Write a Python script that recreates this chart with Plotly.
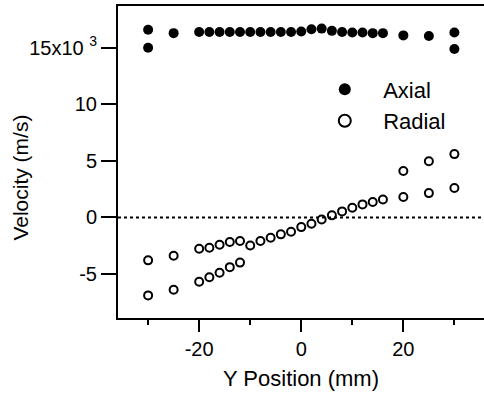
import plotly.graph_objects as go

# Axial velocity (x10^3 m/s)
axial_x = [-30, -30, -25, -20, -18, -16, -14, -12, -10, -8, -6, -4, -2, 0, 2, 4, 6, 8, 10, 12, 14, 16, 20, 25, 30, 30]
axial_v = [16.6, 15.0, 16.3, 16.4, 16.4, 16.4, 16.4, 16.4, 16.4, 16.4, 16.4, 16.4, 16.4, 16.45, 16.65, 16.7, 16.5,
           16.4, 16.35, 16.35, 16.3, 16.3, 16.1, 16.05, 16.35, 14.9]

# Radial velocity (x10^3 m/s)
radial_x = [-30, -30, -25, -25,
            -20, -18, -16, -14, -12,
            -20, -18, -16, -14, -12, -10, -8, -6, -4, -2, 0, 2, 4, 6, 8, 10, 12, 14, 16,
            20, 20, 25, 25, 30, 30]
radial_v = [-3.8, -6.9, -3.4, -6.4,
            -5.7, -5.3, -4.9, -4.4, -4.0,
            -2.77, -2.68, -2.42, -2.18, -2.09, -2.48, -2.09, -1.80, -1.50, -1.27, -0.86, -0.56, -0.18,
            0.18, 0.53, 0.86, 1.15, 1.36, 1.59,
            4.1, 1.8, 4.96, 2.15, 5.6, 2.6]

ytick_vals = [-5, 0, 5, 10, 15]
ytick_text = ["-5", "0", "5", "10", "15x10 <sup>3</sup>"]
xtick_vals = [-20, 0, 20]
xtick_text = ["-20", "0", "20"]
series_names = ["Axial", "Radial"]

FONT = "Liberation Sans, Arial, sans-serif"
PAD = "\u00a0\u00a0\u00a0"

fig = go.Figure()
fig.add_trace(go.Scatter(x=axial_x, y=axial_v, mode="markers", name=PAD + series_names[0],
                         marker=dict(symbol="circle", size=10, color="black")))
fig.add_trace(go.Scatter(x=radial_x, y=radial_v, mode="markers", name=PAD + series_names[1],
                         marker=dict(symbol="circle-open", size=8, color="black", line=dict(width=2))))

fig.add_shape(type="line", xref="paper", yref="y", x0=0, x1=1, y0=0, y1=0,
              line=dict(color="black", width=2, dash="dot"), layer="below")

fig.update_layout(
    width=484, height=402,
    margin=dict(l=118, r=0, t=6, b=84),
    paper_bgcolor="white", plot_bgcolor="white",
    font=dict(family=FONT, size=20, color="black"),
    showlegend=True,
    legend=dict(x=0.565, y=0.80, xanchor="left", yanchor="top",
                bgcolor="rgba(0,0,0,0)", font=dict(size=22), itemsizing="constant",
                tracegroupgap=0),
    xaxis=dict(range=[-35.9, 35.8], showgrid=False, zeroline=False,
               showline=True, linecolor="black", linewidth=2, mirror=True,
               tickmode="array", tickvals=xtick_vals, ticktext=xtick_text,
               ticks="outside", ticklen=12, tickwidth=2, tickcolor="black",
               minor=dict(tickvals=[-30, -10, 10, 30], ticks="outside", ticklen=5, tickwidth=2, tickcolor="black"),
               title=dict(text="Y Position (mm)", font=dict(size=22), standoff=12)),
    yaxis=dict(range=[-8.9, 18.7], showgrid=False, zeroline=False,
               showline=True, linecolor="black", linewidth=2, mirror=False,
               tickmode="array", tickvals=ytick_vals, ticktext=ytick_text,
               ticks="outside", ticklen=15, tickwidth=2, tickcolor="black"),
)

fig.add_annotation(text="Velocity (m/s)", xref="paper", yref="paper",
                   x=-0.265, y=0.45, textangle=-90, showarrow=False,
                   xanchor="center", yanchor="middle", font=dict(size=21))

fig.write_html("out.html")
